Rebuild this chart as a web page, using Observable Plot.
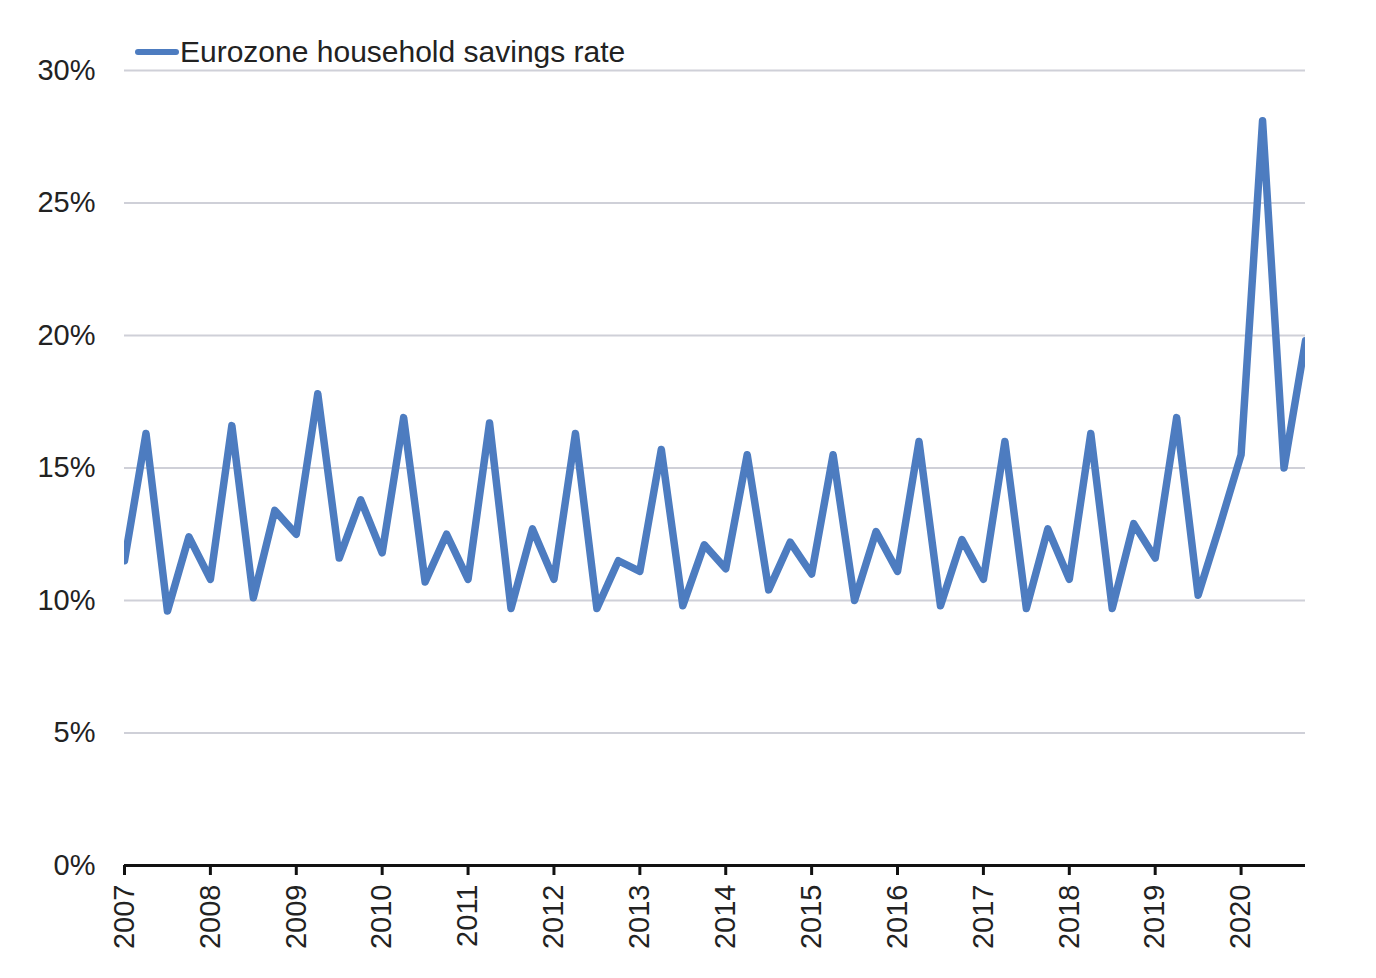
<!DOCTYPE html>
<html>
<head>
<meta charset="utf-8">
<script src="https://cdn.jsdelivr.net/npm/d3@7"></script>
<script src="https://cdn.jsdelivr.net/npm/@observablehq/plot@0.6"></script>
<style>
  html, body { margin: 0; padding: 0; background: #fff; }
  #wrap { position: relative; width: 1376px; height: 978px; font-family: "Liberation Sans", Arial, sans-serif; }
  #legend { position: absolute; left: 135px; top: 35px; display: flex; align-items: center; font-size: 30px; color: #222; }
  #legend .sw { width: 44px; height: 6px; border-radius: 3px; background: #4d7cc0; margin-right: 1px; }
</style>
</head>
<body>
<div id="wrap">
  <div id="chart"></div>
  <div id="legend"><span class="sw"></span><span>Eurozone household savings rate</span></div>
</div>
<script>
const seriesName = "Eurozone household savings rate";
const years = [2007, 2008, 2009, 2010, 2011, 2012, 2013, 2014, 2015, 2016, 2017, 2018, 2019, 2020];
const quarterNames = ["Q1", "Q2", "Q3", "Q4"];
// Quarterly savings rate (%), Q1..Q4 per year
const savings2007 = [11.5, 16.3, 9.6, 12.4];
const savings2008 = [10.8, 16.6, 10.1, 13.4];
const savings2009 = [12.5, 17.8, 11.6, 13.8];
const savings2010 = [11.8, 16.9, 10.7, 12.5];
const savings2011 = [10.8, 16.7, 9.7, 12.7];
const savings2012 = [10.8, 16.3, 9.7, 11.5];
const savings2013 = [11.1, 15.7, 9.8, 12.1];
const savings2014 = [11.2, 15.5, 10.4, 12.2];
const savings2015 = [11.0, 15.5, 10.0, 12.6];
const savings2016 = [11.1, 16.0, 9.8, 12.3];
const savings2017 = [10.8, 16.0, 9.7, 12.7];
const savings2018 = [10.8, 16.3, 9.7, 12.9];
const savings2019 = [11.6, 16.9, 10.2, 12.8];
const savings2020 = [15.5, 28.1, 15.0, 19.8];
const yTicks = [0, 5, 10, 15, 20, 25, 30];

const byYear = [savings2007, savings2008, savings2009, savings2010, savings2011, savings2012, savings2013,
  savings2014, savings2015, savings2016, savings2017, savings2018, savings2019, savings2020];
const data = [];
years.forEach((yr, i) => {
  byYear[i].forEach((v, q) => data.push({year: yr, quarter: quarterNames[q], t: yr + q / 4, value: v}));
});

const lineColor = "#4d7cc0";
const chart = Plot.plot({
  width: 1376,
  height: 978,
  marginLeft: 124,
  marginRight: 71,
  marginTop: 70,
  marginBottom: 113,
  style: {fontFamily: "'Liberation Sans', Arial, sans-serif", fontSize: "29px", color: "#222", background: "#fff"},
  x: {domain: [2007, 2020.75], ticks: years, tickFormat: d => String(d), label: null},
  y: {domain: [0, 30], ticks: yTicks, tickFormat: d => d + "%", label: null},
  marks: [
    Plot.gridY(yTicks.filter(d => d > 0), {stroke: "#cfd0d8", strokeOpacity: 1, strokeWidth: 2}),
    Plot.axisY(yTicks, {tickSize: 0, tickPadding: 29, tickFormat: d => d + "%", fill: "#222", label: null}),
    Plot.axisX(years, {tickSize: 10, tickPadding: 9, tickRotate: -90, tickFormat: d => String(d), stroke: "#111", strokeWidth: 3, fill: "#222", label: null}),
    Plot.ruleY([0], {stroke: "#111", strokeWidth: 3}),
    Plot.line(data, {x: "t", y: "value", stroke: lineColor, strokeWidth: 7.5, strokeLinejoin: "round", strokeLinecap: "round", clip: true})
  ]
});
document.getElementById("chart").appendChild(chart);
</script>
</body>
</html>
